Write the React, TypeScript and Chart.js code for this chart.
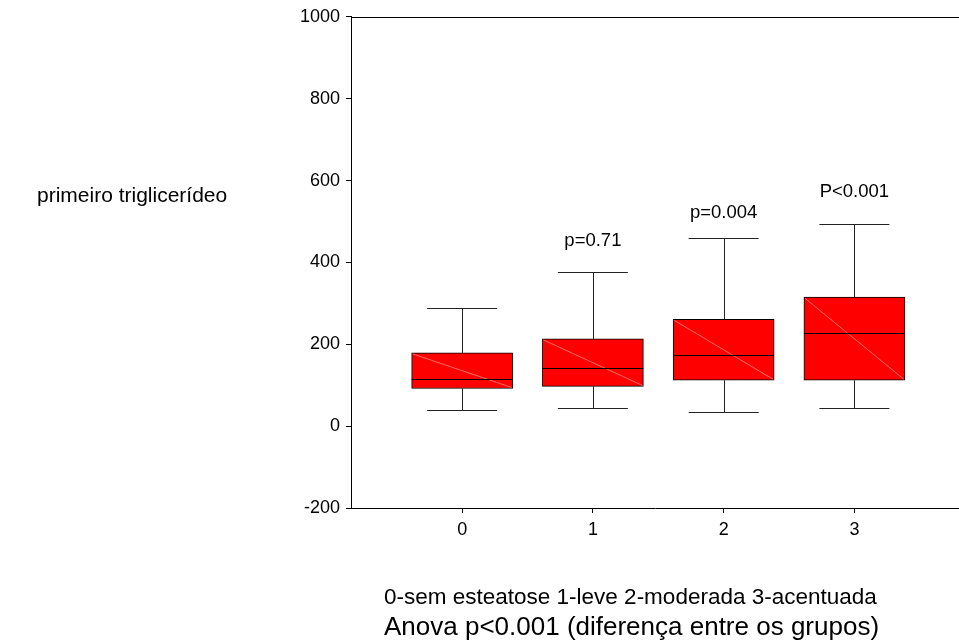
import React, { useEffect, useRef } from 'react';
import { Chart, registerables } from 'chart.js';

Chart.register(...registerables);

// ---- data ----
const categories = [0, 1, 2, 3];
const lowerWhisker = [39, 44, 35, 44];
const q1 = [92, 97, 112, 112];
const median = [116, 141, 174, 227];
const q3 = [179, 213, 261, 315];
const upperWhisker = [289, 376, 459, 494];
const pLabels = ['', 'p=0.71', 'p=0.004', 'P<0.001'];
const pLabelAnchor = [null, 452, 522, 573];
const yTitle = 'primeiro triglicerídeo';
const captionLines = [
  '0-sem esteatose 1-leve 2-moderada 3-acentuada',
  'Anova p<0.001 (diferença entre os grupos)',
];

const FONT = '"Liberation Sans", Arial, Helvetica, sans-serif';

const boxPlugin = {
  id: 'boxExtras',
  afterDatasetsDraw(chart: any) {
    const { ctx, chartArea, scales } = chart;
    const x = scales.x;
    const y = scales.y;
    const meta = chart.getDatasetMeta(0);
    ctx.save();
    categories.forEach((c, i) => {
      const el: any = meta.data[i];
      const cx = x.getPixelForValue(c);
      const half = el.width / 2;
      const yTop = y.getPixelForValue(q3[i]);
      const yBot = y.getPixelForValue(q1[i]);
      // diagonal
      ctx.strokeStyle = 'rgba(255,150,150,0.9)';
      ctx.lineWidth = 0.8;
      ctx.beginPath();
      ctx.moveTo(cx - half + 1, yTop + 1);
      ctx.lineTo(cx + half - 1, yBot - 1);
      ctx.stroke();
      // median
      ctx.strokeStyle = '#000';
      ctx.lineWidth = 1;
      const ym = Math.round(y.getPixelForValue(median[i])) + 0.5;
      ctx.beginPath();
      ctx.moveTo(cx - half, ym);
      ctx.lineTo(cx + half, ym);
      ctx.stroke();
      // whiskers
      ctx.strokeStyle = '#222';
      const xc = Math.round(cx) + 0.5;
      const yu = Math.round(y.getPixelForValue(upperWhisker[i])) + 0.5;
      const yl = Math.round(y.getPixelForValue(lowerWhisker[i])) + 0.5;
      ctx.beginPath();
      ctx.moveTo(xc, yTop);
      ctx.lineTo(xc, yu);
      ctx.moveTo(xc, yBot);
      ctx.lineTo(xc, yl);
      ctx.moveTo(cx - 35, yu);
      ctx.lineTo(cx + 35, yu);
      ctx.moveTo(cx - 35, yl);
      ctx.lineTo(cx + 35, yl);
      ctx.stroke();
      // p labels
      const a = pLabelAnchor[i];
      if (pLabels[i] && a !== null) {
        ctx.fillStyle = '#000';
        ctx.font = `18.5px ${FONT}`;
        ctx.textAlign = 'center';
        ctx.textBaseline = 'middle';
        ctx.fillText(pLabels[i], cx, y.getPixelForValue(a));
      }
    });
    // top frame line
    ctx.strokeStyle = '#000';
    ctx.lineWidth = 1;
    const t = Math.round(chartArea.top) + 0.5;
    ctx.beginPath();
    ctx.moveTo(chartArea.left, t);
    ctx.lineTo(chartArea.right, t);
    ctx.stroke();
    // y title
    ctx.fillStyle = '#000';
    ctx.textAlign = 'left';
    ctx.textBaseline = 'middle';
    ctx.font = `21px ${FONT}`;
    ctx.fillText(yTitle, 37, 196);
    // captions
    ctx.font = `22.5px ${FONT}`;
    ctx.fillText(captionLines[0], 384, 598);
    ctx.font = `26px ${FONT}`;
    ctx.fillText(captionLines[1], 384, 628);
    ctx.restore();
  },
};

export default function App() {
  const ref = useRef<HTMLCanvasElement | null>(null);
  useEffect(() => {
    if (!ref.current) return;
    const chart = new Chart(ref.current, {
      type: 'bar',
      data: {
        datasets: [
          {
            data: categories.map((c, i) => ({ x: c, y: [q1[i], q3[i]] })) as any,
            backgroundColor: '#ff0000',
            borderColor: '#000',
            borderWidth: 1,
            borderSkipped: false,
            barThickness: 101,
          },
        ],
      },
      options: {
        animation: false,
        responsive: false,
        maintainAspectRatio: false,
        layout: { padding: { top: 16, left: 0, right: 0, bottom: 0 } },
        plugins: { legend: { display: false }, tooltip: { enabled: false }, title: { display: false } },
        scales: {
          x: {
            type: 'linear',
            offset: false,
            min: -0.85,
            max: 3.8,
            afterFit: (s: any) => {
              s.height = 135;
            },
            afterBuildTicks: (s: any) => {
              s.ticks = categories.map((v) => ({ value: v }));
            },
            grid: { offset: false, drawOnChartArea: false, drawTicks: true, tickLength: 5, color: '#000' },
            border: { display: true, color: '#000', width: 1 },
            ticks: {
              color: '#000',
              font: { family: FONT, size: 18 },
              padding: 6,
              maxRotation: 0,
              callback: (v: any) => String(v),
            },
          },
          y: {
            type: 'linear',
            min: -200,
            max: 1000,
            afterFit: (s: any) => {
              s.width = 351;
            },
            grid: { drawOnChartArea: false, drawTicks: true, tickLength: 5, color: '#000' },
            border: { display: true, color: '#000', width: 1 },
            ticks: {
              stepSize: 200,
              color: '#000',
              font: { family: FONT, size: 18 },
              padding: 6,
              callback: (v: any) => String(v),
            },
          },
        },
      },
      plugins: [boxPlugin],
    });
    return () => chart.destroy();
  }, []);
  return (
    <div style={{ position: 'fixed', left: 0, top: 0, width: 959, height: 643, background: '#fff' }}>
      <canvas ref={ref} width={959} height={643} />
    </div>
  );
}
